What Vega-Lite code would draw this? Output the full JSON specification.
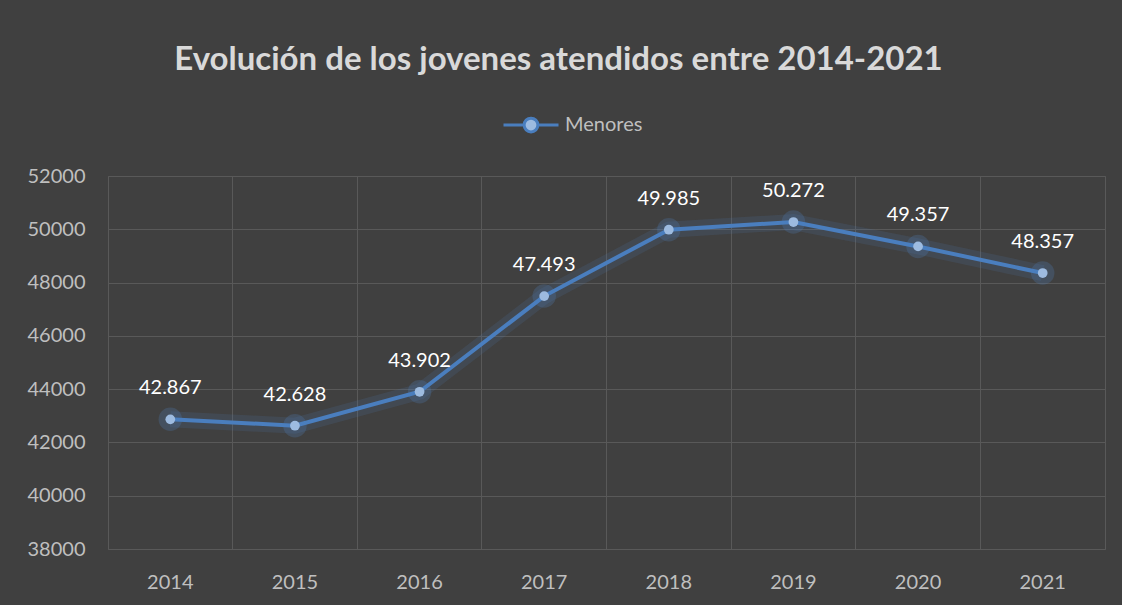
{
  "$schema": "https://vega.github.io/schema/vega-lite/v6.json",
  "width": 997,
  "height": 373,
  "autosize": {"type": "none"},
  "padding": {"left": 108, "top": 176, "right": 17, "bottom": 56},
  "background": "#404040",
  "config": {
    "locale": {"number": {"decimal": ",", "thousands": ".", "grouping": [3], "currency": ["", " €"]}},
    "view": {"stroke": "#595959", "strokeWidth": 1},
    "font": "Lato"
  },
  "title": {
    "text": "Evolución de los jovenes atendidos entre 2014-2021",
    "fontSize": 33,
    "fontWeight": "bold",
    "color": "#d9d9d9",
    "font": "Lato",
    "anchor": "middle",
    "frame": "group",
    "baseline": "alphabetic",
    "dx": -48,
    "offset": -7
  },
  "data": {
    "values": [
      {"year": "2014", "value": 42867},
      {"year": "2015", "value": 42628},
      {"year": "2016", "value": 43902},
      {"year": "2017", "value": 47493},
      {"year": "2018", "value": 49985},
      {"year": "2019", "value": 50272},
      {"year": "2020", "value": 49357},
      {"year": "2021", "value": 48357}
    ]
  },
  "encoding": {
    "x": {
      "field": "year",
      "type": "ordinal",
      "scale": {"type": "band", "paddingInner": 0, "paddingOuter": 0},
      "axis": {
        "title": null,
        "labelAngle": 0,
        "labelFontSize": 20,
        "labelColor": "#bfbfbf",
        "labelFont": "Lato",
        "labelPadding": 23,
        "domain": false,
        "ticks": false,
        "grid": true,
        "gridColor": "#595959",
        "gridWidth": 1,
        "bandPosition": 0
      }
    },
    "y": {
      "field": "value",
      "type": "quantitative",
      "scale": {"domain": [38000, 52000], "nice": false, "zero": false},
      "axis": {
        "title": null,
        "values": [38000, 40000, 42000, 44000, 46000, 48000, 50000, 52000],
        "format": "d",
        "labelFontSize": 20,
        "labelColor": "#bfbfbf",
        "labelFont": "Lato",
        "labelPadding": 23,
        "domain": false,
        "ticks": false,
        "grid": true,
        "gridColor": "#595959",
        "gridWidth": 1
      }
    }
  },
  "layer": [
    {
      "mark": {"type": "line", "color": "#4f81bd", "strokeWidth": 16, "opacity": 0.15}
    },
    {
      "mark": {"type": "point", "filled": true, "color": "#4f81bd", "size": 550, "opacity": 0.25}
    },
    {
      "mark": {"type": "line", "strokeWidth": 4},
      "encoding": {
        "color": {
          "datum": "Menores",
          "scale": {"range": ["#4a7ebe"]},
          "legend": {
            "title": null,
            "orient": "none",
            "legendX": 394,
            "legendY": -80,
            "direction": "horizontal",
            "labelFontSize": 20,
            "labelColor": "#bfbfbf",
            "labelFont": "Lato",
            "symbolType": "M-1,0H-0.25M0.25,0H1M-0.25,0A0.25,0.25 0 1,0 0.25,0A0.25,0.25 0 1,0 -0.25,0Z",
            "symbolSize": 3025,
            "symbolStrokeWidth": 4,
            "labelOffset": 5,
            "encode": {
              "symbols": {
                "update": {
                  "fill": {"value": "#9dbbe0"},
                  "stroke": {"value": "#4a7ebe"},
                  "strokeWidth": {"value": 3},
                  "opacity": {"value": 1}
                }
              }
            }
          }
        }
      }
    },
    {
      "mark": {"type": "point", "filled": true, "color": "#9dbbe0", "size": 95, "opacity": 1}
    },
    {
      "mark": {"type": "text", "dy": -31, "fontSize": 20, "color": "#ffffff", "font": "Lato"},
      "encoding": {
        "text": {"field": "value", "type": "quantitative", "format": ",.0f"}
      }
    }
  ]
}
